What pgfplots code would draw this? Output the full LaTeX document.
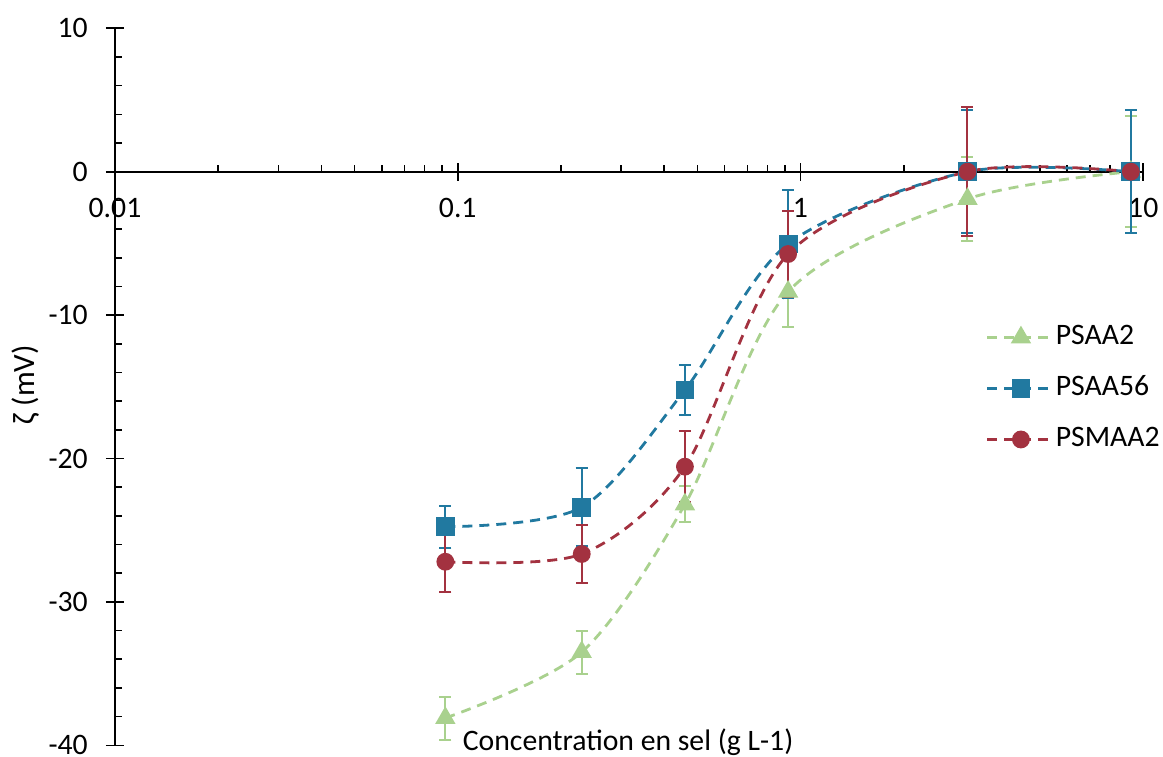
\documentclass[border=0pt]{standalone}
\usepackage{pgfplots}
\pgfplotsset{compat=1.18}
\usepackage{pgfplotstable}
\usepackage{fontspec}
\setmainfont{Carlito}
\definecolor{cgreen}{RGB}{169,209,142}
\definecolor{cblue}{RGB}{33,121,160}
\definecolor{cred}{RGB}{163,50,64}

\pgfplotstableread{
x y e
0.092 -38.1 1.5
0.23 -33.5 1.5
0.46 -23.2 1.26
0.92 -8.37 2.48
3.07 -1.9 2.9
9.2 0 3.85
}\psaatwo
\pgfplotstableread{
x y e
0.092 -24.76 1.45
0.23 -23.4 2.72
0.46 -15.22 1.74
0.92 -5.04 3.77
3.07 0 4.3
9.2 0 4.3
}\psaafs
\pgfplotstableread{
x y e
0.092 -27.2 2.09
0.23 -26.66 1.99
0.46 -20.57 2.49
0.92 -5.74 3.02
3.07 0 4.5
9.2 0 0
}\psmaa

\pgfplotsset{myerr/.style={
  error bars/y dir=both, error bars/y explicit, error bars/error mark=-,
  error bars/error bar style={solid, line width=2pt},
  error bars/error mark options={solid, line width=2pt, mark size=6pt, rotate=90}}}

\begin{document}
\begin{tikzpicture}
\begin{axis}[
  at={(0,0)}, anchor=south west,
  scale only axis, width=1028.3pt, height=717pt,
  xmode=log, xmin=0.01, xmax=10, ymin=-40, ymax=10,
  axis x line=middle, axis y line=left,
  axis line style={-, line width=1.6pt, black},
  hide obscured x ticks=false, hide obscured y ticks=false,
  font=\fontsize{29.7}{35}\selectfont,
  xtick={0.01,0.1,1,10}, xticklabels={0.01,0.1,1,10},
  ytick={-40,-30,-20,-10,0,10}, yticklabels={-40,-30,-20,-10,0,10},
  minor y tick num=4,
  tick align=inside, major tick length=9pt, minor tick length=7pt,
  every tick/.style={black, line width=1.6pt},
  extra x ticks={0.01,0.1,1,10}, extra x tick labels={},
  extra x tick style={tick align=outside, major tick length=9pt},
  extra y ticks={-40,-30,-20,-10,0,10}, extra y tick labels={},
  extra y tick style={tick align=outside, major tick length=9pt},
  xticklabel style={anchor=north, inner sep=0pt, yshift=-26pt},
  yticklabel style={anchor=east, inner sep=0pt, xshift=-27pt},
  xlabel={Concentration en sel (g L-1)},
  xlabel style={at={(axis description cs:0.499,0)}, anchor=base, yshift=-5pt},
  ylabel={ζ (mV)},
  ylabel style={at={(axis description cs:-0.0866,0.503)}, anchor=center, font=\fontsize{31}{36}\selectfont},
  clip=false,
  legend style={draw=none, fill=none, at={(axis description cs:0.844,0.590)}, anchor=north west,
    nodes={inner sep=0pt, text height=20pt, text depth=6pt}, row sep=25pt},
  legend cell align=left,
  legend image code/.code={\draw[mark repeat=2,mark phase=2] plot coordinates {(0pt,0pt) (33.5pt,0pt) (67pt,0pt)};},
  every axis plot/.append style={line width=2.8pt, dash pattern=on 10pt off 7pt, smooth, tension=0.5},
]
\addplot[cgreen, mark=triangle*, mark size=9pt, mark options={solid, fill=cgreen}, myerr]
  table[x=x, y=y, y error=e] {\psaatwo};
\addlegendentry{PSAA2}
\addplot[cblue, mark=square*, mark size=8pt, mark options={solid, fill=cblue}, myerr]
  table[x=x, y=y, y error=e] {\psaafs};
\addlegendentry{PSAA56}
\addplot[cred, mark=*, mark size=7.5pt, mark options={solid, fill=cred}, myerr]
  table[x=x, y=y, y error=e] {\psmaa};
\addlegendentry{PSMAA2}
\end{axis}
\pgfresetboundingbox
\path[use as bounding box] (-115pt,-10.7pt) rectangle (1048pt,745.3pt);
\end{tikzpicture}
\end{document}
